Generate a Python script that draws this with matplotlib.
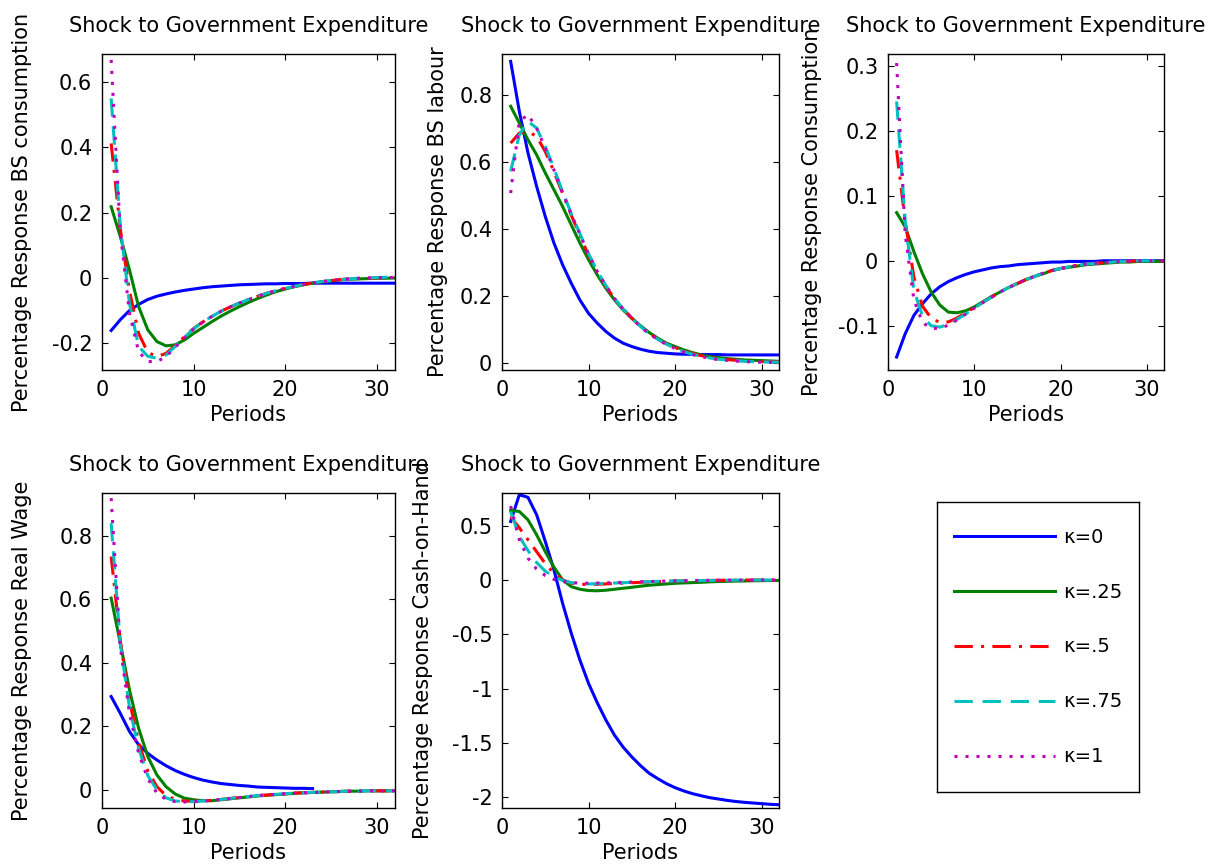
import matplotlib
matplotlib.use('Agg')
import matplotlib.pyplot as plt
import numpy as np

periods = np.arange(1, 33)
kappas = ['κ=0', 'κ=.25', 'κ=.5', 'κ=.75', 'κ=1']

# responses per panel, one list per kappa value (0, .25, .5, .75, 1)
bs_consumption = [
    [-0.161, -0.128, -0.100, -0.081, -0.066, -0.056, -0.049, -0.043, -0.038, -0.034, -0.030, -0.027, -0.025, -0.023, -0.021, -0.020,
     -0.019, -0.018, -0.018, -0.017, -0.017, -0.017, -0.016, -0.016, -0.016, -0.016, -0.016, -0.016, -0.016, -0.016, -0.016, -0.016],
    [0.218, 0.127, 0.025, -0.088, -0.159, -0.195, -0.208, -0.205, -0.190, -0.170, -0.152, -0.134, -0.117, -0.102, -0.088, -0.075,
     -0.063, -0.052, -0.042, -0.034, -0.027, -0.021, -0.016, -0.012, -0.009, -0.006, -0.004, -0.003, -0.002, -0.001, -0.001, 0.000],
    [0.412, 0.150, -0.040, -0.170, -0.228, -0.241, -0.231, -0.207, -0.180, -0.155, -0.135, -0.118, -0.102, -0.089, -0.077, -0.066,
     -0.056, -0.047, -0.039, -0.032, -0.026, -0.020, -0.015, -0.011, -0.008, -0.005, -0.003, -0.002, -0.001, 0.000, 0.001, 0.002],
    [0.550, 0.157, -0.078, -0.210, -0.240, -0.246, -0.236, -0.210, -0.182, -0.156, -0.135, -0.118, -0.102, -0.089, -0.077, -0.066,
     -0.056, -0.047, -0.039, -0.032, -0.026, -0.020, -0.015, -0.011, -0.008, -0.005, -0.003, -0.001, 0.000, 0.001, 0.002, 0.002],
    [0.668, 0.140, -0.108, -0.226, -0.256, -0.256, -0.241, -0.212, -0.183, -0.157, -0.136, -0.118, -0.102, -0.089, -0.077, -0.066,
     -0.056, -0.047, -0.039, -0.032, -0.026, -0.020, -0.015, -0.011, -0.008, -0.005, -0.003, -0.001, 0.000, 0.001, 0.001, 0.002],
]

bs_labour = [
    [0.899, 0.750, 0.626, 0.526, 0.436, 0.357, 0.292, 0.237, 0.187, 0.147, 0.118, 0.093, 0.073, 0.058, 0.048, 0.040,
     0.034, 0.030, 0.028, 0.026, 0.025, 0.025, 0.024, 0.024, 0.024, 0.023, 0.023, 0.023, 0.023, 0.023, 0.023, 0.023],
    [0.765, 0.715, 0.665, 0.620, 0.566, 0.516, 0.466, 0.411, 0.357, 0.307, 0.262, 0.222, 0.187, 0.157, 0.132, 0.110,
     0.090, 0.073, 0.058, 0.048, 0.038, 0.030, 0.023, 0.018, 0.015, 0.012, 0.010, 0.008, 0.007, 0.006, 0.005, 0.004],
    [0.655, 0.685, 0.690, 0.675, 0.630, 0.570, 0.505, 0.440, 0.380, 0.320, 0.270, 0.228, 0.190, 0.160, 0.133, 0.108,
     0.088, 0.070, 0.056, 0.045, 0.035, 0.027, 0.021, 0.016, 0.012, 0.009, 0.007, 0.005, 0.004, 0.003, 0.003, 0.002],
    [0.571, 0.680, 0.720, 0.700, 0.645, 0.580, 0.510, 0.445, 0.385, 0.325, 0.273, 0.230, 0.192, 0.160, 0.133, 0.108,
     0.087, 0.070, 0.055, 0.043, 0.033, 0.025, 0.019, 0.014, 0.010, 0.008, 0.006, 0.004, 0.003, 0.002, 0.002, 0.001],
    [0.506, 0.720, 0.740, 0.700, 0.640, 0.575, 0.508, 0.443, 0.383, 0.323, 0.272, 0.229, 0.191, 0.159, 0.132, 0.107,
     0.086, 0.069, 0.054, 0.042, 0.032, 0.024, 0.018, 0.013, 0.009, 0.007, 0.005, 0.003, 0.002, 0.001, 0.001, 0.000],
]

consumption = [
    [-0.148, -0.112, -0.084, -0.066, -0.051, -0.040, -0.032, -0.026, -0.021, -0.017, -0.014, -0.011, -0.009, -0.008, -0.006, -0.005,
     -0.004, -0.003, -0.002, -0.002, -0.001, -0.001, -0.001, -0.001, 0.000, 0.000, 0.000, 0.000, 0.000, 0.000, 0.000, 0.000],
    [0.074, 0.052, 0.014, -0.020, -0.048, -0.068, -0.079, -0.080, -0.077, -0.071, -0.063, -0.055, -0.048, -0.041, -0.035, -0.029,
     -0.024, -0.020, -0.015, -0.012, -0.010, -0.008, -0.006, -0.005, -0.004, -0.003, -0.002, -0.002, -0.001, -0.001, -0.001, -0.001],
    [0.170, 0.060, -0.025, -0.070, -0.088, -0.095, -0.094, -0.088, -0.080, -0.072, -0.064, -0.056, -0.048, -0.041, -0.035, -0.029,
     -0.024, -0.019, -0.015, -0.012, -0.009, -0.007, -0.005, -0.004, -0.003, -0.002, -0.001, -0.001, 0.000, 0.000, 0.000, 0.000],
    [0.245, 0.060, -0.045, -0.085, -0.100, -0.102, -0.098, -0.090, -0.082, -0.073, -0.064, -0.056, -0.048, -0.041, -0.035, -0.029,
     -0.024, -0.019, -0.015, -0.012, -0.009, -0.007, -0.005, -0.004, -0.003, -0.002, -0.001, -0.001, 0.000, 0.000, 0.000, 0.000],
    [0.304, 0.040, -0.060, -0.095, -0.104, -0.104, -0.099, -0.091, -0.082, -0.073, -0.064, -0.056, -0.048, -0.041, -0.035, -0.029,
     -0.024, -0.019, -0.015, -0.012, -0.009, -0.007, -0.005, -0.004, -0.003, -0.002, -0.001, -0.001, 0.000, 0.000, 0.000, 0.000],
]

# kappa=0 series is shorter here
real_wage = [
    [0.294, 0.241, 0.184, 0.142, 0.115, 0.094, 0.076, 0.061, 0.049, 0.039, 0.031, 0.025, 0.020, 0.017, 0.014, 0.012,
     0.009, 0.008, 0.007, 0.006, 0.005, 0.005, 0.004],
    [0.604, 0.462, 0.315, 0.194, 0.105, 0.047, 0.010, -0.013, -0.026, -0.031, -0.034, -0.034, -0.031, -0.028, -0.025, -0.022,
     -0.019, -0.017, -0.015, -0.013, -0.011, -0.009, -0.008, -0.007, -0.006, -0.005, -0.004, -0.004, -0.003, -0.003, -0.003, -0.003],
    [0.735, 0.470, 0.280, 0.150, 0.060, 0.010, -0.018, -0.030, -0.035, -0.036, -0.035, -0.033, -0.030, -0.027, -0.024, -0.021,
     -0.018, -0.016, -0.014, -0.012, -0.010, -0.009, -0.008, -0.007, -0.006, -0.005, -0.004, -0.004, -0.003, -0.003, -0.003, -0.003],
    [0.840, 0.460, 0.260, 0.130, 0.045, 0.000, -0.025, -0.035, -0.037, -0.037, -0.035, -0.033, -0.030, -0.027, -0.024, -0.021,
     -0.018, -0.016, -0.014, -0.012, -0.010, -0.009, -0.008, -0.007, -0.006, -0.005, -0.004, -0.004, -0.003, -0.003, -0.003, -0.003],
    [0.919, 0.450, 0.240, 0.115, 0.035, -0.010, -0.030, -0.037, -0.038, -0.037, -0.035, -0.033, -0.030, -0.027, -0.024, -0.021,
     -0.018, -0.016, -0.014, -0.012, -0.010, -0.009, -0.008, -0.007, -0.006, -0.005, -0.004, -0.004, -0.003, -0.003, -0.003, -0.003],
]

cash_on_hand = [
    [0.538, 0.784, 0.760, 0.600, 0.354, 0.092, -0.215, -0.490, -0.738, -0.953, -1.130, -1.290, -1.430, -1.540, -1.630, -1.710,
     -1.780, -1.830, -1.876, -1.913, -1.943, -1.968, -1.987, -2.005, -2.017, -2.030, -2.040, -2.048, -2.054, -2.060, -2.066, -2.070],
    [0.640, 0.630, 0.553, 0.415, 0.260, 0.117, 0.000, -0.062, -0.086, -0.098, -0.100, -0.095, -0.086, -0.077, -0.068, -0.058,
     -0.049, -0.043, -0.037, -0.031, -0.028, -0.025, -0.022, -0.018, -0.015, -0.013, -0.011, -0.010, -0.008, -0.007, -0.006, -0.005],
    [0.580, 0.480, 0.370, 0.260, 0.150, 0.060, 0.000, -0.030, -0.040, -0.042, -0.040, -0.037, -0.033, -0.030, -0.026, -0.022,
     -0.019, -0.016, -0.013, -0.011, -0.009, -0.007, -0.006, -0.005, -0.004, -0.003, -0.002, -0.002, -0.001, -0.001, -0.001, -0.001],
    [0.630, 0.400, 0.270, 0.160, 0.080, 0.030, -0.005, -0.025, -0.035, -0.037, -0.035, -0.032, -0.029, -0.026, -0.023, -0.020,
     -0.017, -0.014, -0.012, -0.010, -0.008, -0.007, -0.006, -0.005, -0.004, -0.003, -0.002, -0.002, -0.001, -0.001, -0.001, -0.001],
    [0.680, 0.370, 0.200, 0.100, 0.040, 0.005, -0.015, -0.025, -0.030, -0.030, -0.029, -0.027, -0.025, -0.022, -0.020, -0.017,
     -0.015, -0.013, -0.011, -0.009, -0.008, -0.006, -0.005, -0.004, -0.003, -0.003, -0.002, -0.002, -0.001, -0.001, -0.001, 0.000],
]

colors = ['#0000ff', '#008000', '#ff0000', '#00bfbf', '#bf00bf']
dashes = [None, None, (6, 2.7, 1, 2.7), (6, 3.2), (1, 2.6)]
FS = 15

fig = plt.figure(figsize=(12.11, 8.65), dpi=100)


def panel(rect, series, ylabel, ylim, yticks, label_x):
    ax = fig.add_axes(rect)
    for vals, c, d, lab in zip(series, colors, dashes, kappas):
        line, = ax.plot(periods[:len(vals)], vals, color=c, lw=2.2, label=lab)
        if d is not None:
            line.set_dashes(d)
    ax.set_xlim(0, 32)
    ax.set_ylim(*ylim)
    ax.set_xticks([0, 10, 20, 30])
    ax.set_yticks(yticks)
    ax.set_yticklabels([f'{t:g}' for t in yticks])
    ax.tick_params(direction='in', top=True, right=True, length=4, width=0.8,
                   labelsize=FS, pad=7)
    for s in ax.spines.values():
        s.set_linewidth(1.0)
    ax.set_title('Shock to Government Expenditure', fontsize=FS, pad=16)
    ax.set_xlabel('Periods', fontsize=FS, labelpad=4)
    ax.set_ylabel(ylabel, fontsize=FS)
    ax.yaxis.set_label_coords(label_x, 0.5)
    return ax


W, H = 1211, 865
top_row = (H - 370) / H
bot_row = (H - 808) / H
panel([102 / W, top_row, 293 / W, 316 / H], bs_consumption,
      'Percentage Response BS consumption', (-0.282, 0.686), [-0.2, 0, 0.2, 0.4, 0.6], -0.239)
panel([502 / W, top_row, 277 / W, 316 / H], bs_labour,
      'Percentage Response BS labour', (-0.022, 0.921), [0, 0.2, 0.4, 0.6, 0.8], -0.195)
panel([888 / W, top_row, 276 / W, 316 / H], consumption,
      'Percentage Response Consumption', (-0.168, 0.318), [-0.1, 0, 0.1, 0.2, 0.3], -0.239)
panel([102 / W, bot_row, 293 / W, 315 / H], real_wage,
      'Percentage Response Real Wage', (-0.057, 0.935), [0, 0.2, 0.4, 0.6, 0.8], -0.239)
ax5 = panel([502 / W, bot_row, 277 / W, 315 / H], cash_on_hand,
            'Percentage Response Cash-on-Hand', (-2.10, 0.80), [-2, -1.5, -1, -0.5, 0, 0.5], -0.249)

# legend in its own boxed axes
lax = fig.add_axes([937 / W, (H - 792) / H, 202 / W, 290 / H])
lax.set_xticks([])
lax.set_yticks([])
for s in lax.spines.values():
    s.set_linewidth(1.0)
handles, labels = ax5.get_legend_handles_labels()
lax.legend(handles, labels, loc='center', frameon=False, fontsize=14,
           handlelength=5.2, handletextpad=0.4, labelspacing=1.85)

fig.savefig('out.png', dpi=100)
